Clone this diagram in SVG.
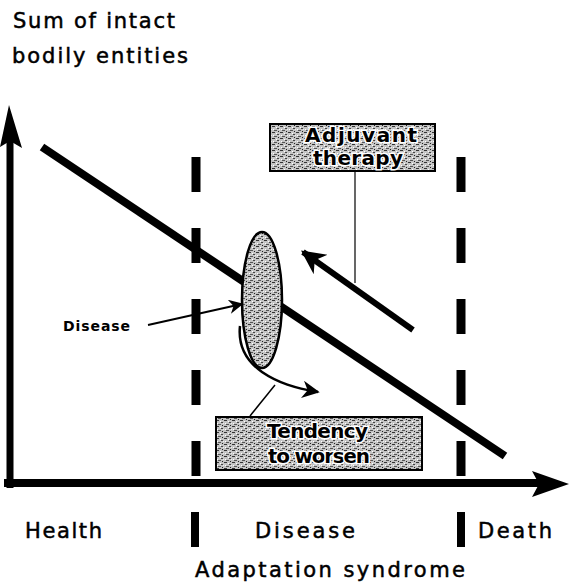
<svg xmlns="http://www.w3.org/2000/svg" width="569" height="588" viewBox="0 0 569 588">
<defs>
<pattern id="tex" width="8" height="6" patternUnits="userSpaceOnUse">
<rect width="8" height="6" fill="#c4c4c4"/>
<rect x="0" y="0" width="3" height="1" fill="#333"/>
<rect x="4" y="1" width="1" height="1" fill="#fff"/>
<rect x="5" y="2" width="2" height="1" fill="#444"/>
<rect x="1" y="3" width="1" height="1" fill="#fff"/>
<rect x="2" y="4" width="3" height="1" fill="#555"/>
<rect x="6" y="5" width="1" height="1" fill="#222"/>
<rect x="7" y="3" width="1" height="1" fill="#eee"/>
</pattern>
<marker id="ah" viewBox="0 0 10 10" refX="9" refY="5" markerWidth="4.5" markerHeight="4" orient="auto" markerUnits="strokeWidth">
<path d="M0,0 L10,5 L0,10 L3,5 z" fill="#000"/>
</marker>
<marker id="ahc" viewBox="0 0 10 10" refX="9" refY="5" markerWidth="9" markerHeight="7" orient="auto" markerUnits="strokeWidth">
<path d="M0,0 L10,5 L0,10 L3,5 z" fill="#000"/>
</marker>
<marker id="ahs" viewBox="0 0 10 10" refX="9" refY="5" markerWidth="10" markerHeight="8" orient="auto" markerUnits="strokeWidth">
<path d="M0,0 L10,5 L0,10 L3,5 z" fill="#000"/>
</marker>
</defs>
<style>
text{font-family:"DejaVu Sans","Liberation Sans",Arial,sans-serif;fill:#000}
.lbl{font-size:21px;stroke:#000;stroke-width:0.5}
.box{fill:url(#tex);stroke:#000;stroke-width:2}
.bt{font-size:20px;font-weight:bold;fill:#000;stroke:#fff;stroke-width:3;paint-order:stroke}
.dash{stroke:#000;stroke-width:9;stroke-dasharray:35 36}
.ln{stroke:#000;fill:none}
</style>
<rect width="569" height="588" fill="#fff"/>
<g id="axes">
<line x1="10" y1="488" x2="10" y2="135" stroke="#000" stroke-width="7"/>
<path d="M9,105 L22,148 L10,141 L0,147 z" fill="#000"/>
<line x1="4" y1="483" x2="540" y2="483" stroke="#000" stroke-width="8"/>
<path d="M569,484 L532,471 L539,484 L532,497 z" fill="#000"/>
</g>
<g id="phase-lines">
<line class="dash" x1="196" y1="157" x2="196" y2="477"/>
<line class="dash" x1="461" y1="157" x2="461" y2="477"/>
<line x1="195" y1="512" x2="195" y2="547" stroke="#000" stroke-width="8"/>
<line x1="461" y1="512" x2="461" y2="547" stroke="#000" stroke-width="8"/>
</g>
<g id="main-line">
<line x1="42" y1="147" x2="505" y2="456" stroke="#000" stroke-width="8"/>
</g>
<g id="disease-ellipse">
<ellipse cx="262" cy="300" rx="20" ry="68" fill="url(#tex)" stroke="#000" stroke-width="2.5"/>
</g>
<g id="adjuvant">
<rect class="box" x="270" y="124" width="165" height="47"/>
<text class="bt" x="305" y="142" textLength="112" lengthAdjust="spacing">Adjuvant</text>
<text class="bt" x="313" y="165" textLength="90" lengthAdjust="spacing">therapy</text>
</g>
<g id="tendency">
<rect class="box" x="216" y="417" width="206" height="53"/>
<text class="bt" x="267" y="438" textLength="101" lengthAdjust="spacing">Tendency</text>
<text class="bt" x="268" y="463" textLength="102" lengthAdjust="spacing">to worsen</text>
</g>
<g id="connectors">
<line class="ln" x1="413" y1="330" x2="303" y2="252" stroke-width="6" marker-end="url(#ah)"/>
<line class="ln" x1="355" y1="171" x2="355" y2="283" stroke-width="1.2"/>
<line class="ln" x1="148" y1="325" x2="242" y2="304" stroke-width="1.8" marker-end="url(#ahs)"/>
<path class="ln" d="M240,326 C238,345 245,360 262,372 C278,383 295,388 318,392" stroke-width="2.5" marker-end="url(#ahc)"/>
<line class="ln" x1="275" y1="385" x2="250" y2="416" stroke-width="1.5"/>
</g>
<g id="labels">
<text class="lbl" x="13" y="28" font-size="20" textLength="162" lengthAdjust="spacing">Sum of intact</text>
<text class="lbl" x="12" y="63" font-size="20" textLength="176" lengthAdjust="spacing">bodily entities</text>
<text x="63" y="331" font-size="14" font-weight="bold" textLength="67" lengthAdjust="spacing">Disease</text>
<text class="lbl" x="25" y="538" font-size="22" textLength="77" lengthAdjust="spacing">Health</text>
<text class="lbl" x="255" y="538" font-size="22" textLength="100" lengthAdjust="spacing">Disease</text>
<text class="lbl" x="478" y="538" font-size="22" textLength="74" lengthAdjust="spacing">Death</text>
<text class="lbl" x="195" y="577" font-size="22" textLength="270" lengthAdjust="spacing">Adaptation syndrome</text>
</g>
</svg>
